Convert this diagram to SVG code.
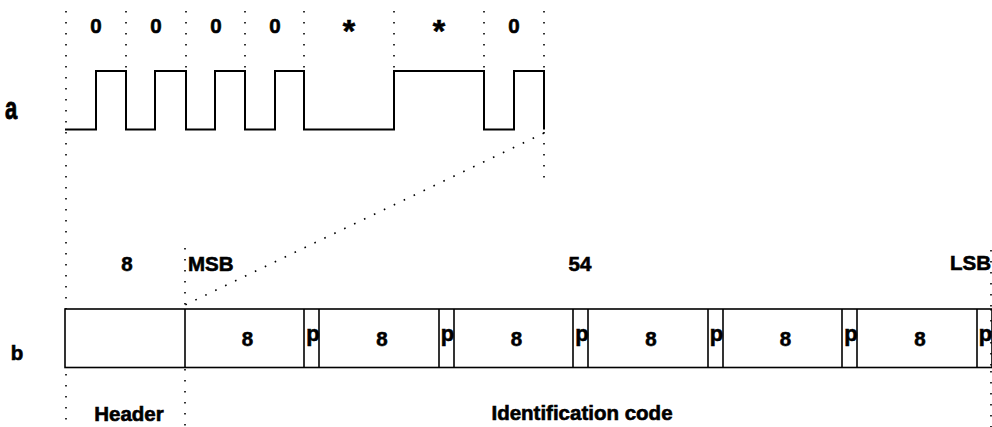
<svg xmlns="http://www.w3.org/2000/svg" width="992" height="427" viewBox="0 0 992 427">
<style>
text{font-family:"Liberation Sans",Arial,sans-serif;font-weight:bold;fill:#000;stroke:#000;stroke-width:0.6}
.t{font-size:20.5px;text-anchor:middle}
.p{font-size:22px;text-anchor:middle}
.dot{stroke:#000;stroke-width:1.6;stroke-dasharray:1.6 9.4;fill:none}
.wave{stroke:#000;stroke-width:2;fill:none}
.box{stroke:#000;stroke-width:1.6;fill:#fff}
</style>
<rect width="992" height="427" fill="#fff"/>
<g id="guides">
<line class="dot" x1="66" y1="11" x2="66" y2="427"/>
<line class="dot" x1="126" y1="11" x2="126" y2="130"/>
<line class="dot" x1="186" y1="11" x2="186" y2="130"/>
<line class="dot" x1="245" y1="11" x2="245" y2="130"/>
<line class="dot" x1="304" y1="11" x2="304" y2="130"/>
<line class="dot" x1="394" y1="11" x2="394" y2="130"/>
<line class="dot" x1="484" y1="11" x2="484" y2="130"/>
<line class="dot" x1="544" y1="11" x2="544" y2="186"/>
<line class="dot" x1="185" y1="248" x2="185" y2="427"/>
<line class="dot" x1="991" y1="250" x2="991" y2="427"/>
<line class="dot" x1="544" y1="133" x2="185" y2="305"/>
</g>
<g id="signal-a">
<text x="11" y="119.5" style="font-size:22px" text-anchor="middle" transform="translate(11 119.5) scale(1 1.45) translate(-11 -119.5)">a</text>
<polyline class="wave" points="65,129.5 96,129.5 96,71 126,71 126,129.5 155,129.5 155,71 186,71 186,129.5 215,129.5 215,71 245,71 245,129.5 275,129.5 275,71 304,71 304,129.5 394,129.5 394,71 484,71 484,129.5 514,129.5 514,71 544,71 544,129.5"/>
<text class="t" x="96" y="33">0</text>
<text class="t" x="156" y="33">0</text>
<text class="t" x="216" y="33">0</text>
<text class="t" x="275" y="33">0</text>
<text class="t" x="349" y="42" style="font-size:32px">*</text>
<text class="t" x="439" y="42" style="font-size:32px">*</text>
<text class="t" x="514" y="33">0</text>
</g>
<g id="frame-b">
<text class="t" x="17" y="360">b</text>
<text class="t" x="127" y="271">8</text>
<text x="188" y="271" style="font-size:20.5px">MSB</text>
<text class="t" x="580" y="271">54</text>
<text x="991" y="270" style="font-size:20.5px" text-anchor="end">LSB</text>
<rect class="box" x="65" y="309" width="927" height="58.5"/>
<line class="dot" x1="991" y1="309" x2="991" y2="368"/>
<line class="box" x1="185" y1="309" x2="185" y2="367.5"/>
<g id="cells" stroke="#000" stroke-width="1.6">
<line x1="304" y1="309" x2="304" y2="367.5"/><line x1="319" y1="309" x2="319" y2="367.5"/>
<line x1="439" y1="309" x2="439" y2="367.5"/><line x1="454" y1="309" x2="454" y2="367.5"/>
<line x1="573" y1="309" x2="573" y2="367.5"/><line x1="588" y1="309" x2="588" y2="367.5"/>
<line x1="708" y1="309" x2="708" y2="367.5"/><line x1="723" y1="309" x2="723" y2="367.5"/>
<line x1="842" y1="309" x2="842" y2="367.5"/><line x1="857" y1="309" x2="857" y2="367.5"/>
<line x1="977" y1="309" x2="977" y2="367.5"/>
</g>
<text class="t" x="247.5" y="345.5">8</text>
<text class="t" x="382" y="345.5">8</text>
<text class="t" x="516.5" y="345.5">8</text>
<text class="t" x="651" y="345.5">8</text>
<text class="t" x="785.5" y="345.5">8</text>
<text class="t" x="920" y="345.5">8</text>
<text class="p" x="313" y="340.5">p</text>
<text class="p" x="447.5" y="340.5">p</text>
<text class="p" x="582" y="340.5">p</text>
<text class="p" x="716.5" y="340.5">p</text>
<text class="p" x="851" y="340.5">p</text>
<text class="p" x="985.5" y="340.5">p</text>
<text class="t" x="129" y="421">Header</text>
<text class="t" x="582" y="420">Identification code</text>
</g>
</svg>
